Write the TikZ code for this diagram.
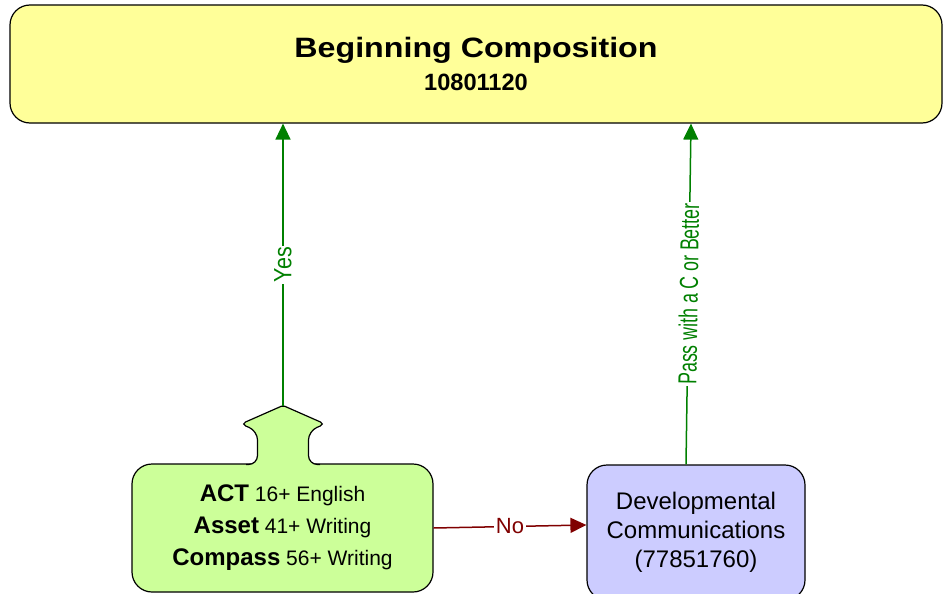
\documentclass[tikz,border=0pt]{standalone}
\usepackage{fontspec}
\setmainfont{Liberation Sans}
\usetikzlibrary{arrows.meta}

\definecolor{coursefill}{RGB}{255,255,153}
\definecolor{testfill}{RGB}{204,255,153}
\definecolor{devfill}{RGB}{204,204,255}
\definecolor{passgreen}{RGB}{0,128,0}
\definecolor{faildark}{RGB}{128,0,0}

\newcommand{\examname}[1]{{\fontsize{24}{32}\selectfont\bfseries #1}}

\begin{document}
\begin{tikzpicture}[x=1pt, y=-1pt, >={Triangle[length=16pt,width=15pt]},
    box/.style={draw, line width=1.2pt, rounded corners=20pt, align=center, inner sep=0pt},
    flow/.style={->, line width=1.5pt},
    tag/.style={fill=white, inner sep=1.5pt}]
    \useasboundingbox (0,0) rectangle (943,594);

    \node [box, fill=coursefill, minimum width=932pt, minimum height=118pt,
        font={\fontsize{23.6}{33}\selectfont\bfseries}] (composition) at (476,64)
        {\fontsize{28}{33}\selectfont\scalebox{1.15}[1]{Beginning Composition}\\10801120};
    \node [box, fill=testfill, minimum width=301pt, minimum height=128pt,
        font={\fontsize{21}{32}\selectfont}] (placement) at (282.5,528)
        {\examname{ACT} 16+ English\\\examname{Asset} 41+ Writing\\\examname{Compass} 56+ Writing};
    \node [box, fill=devfill, minimum width=218pt, minimum height=135pt,
        font={\fontsize{24}{29}\selectfont}] (devcomm) at (696,532.5)
        {Developmental\\Communications\\(77851760)};

    % tab on top of the placement box
    \fill [testfill, rounded corners=9pt] (246,464.5) -- (257.5,464.5) -- (257.5,431)
        [rounded corners=5pt] -- (241,424) [rounded corners=2pt] -- (283,405.5)
        [rounded corners=5pt] -- (325,424) [rounded corners=9pt] -- (308.5,431)
        -- (308.5,464.5) [sharp corners] -- (320,464.5) -- (320,467) -- (246,467) -- cycle;
    \draw [line width=1.2pt, rounded corners=9pt] (246,464.5) -- (257.5,464.5) -- (257.5,431)
        [rounded corners=5pt] -- (241,424) [rounded corners=2pt] -- (283,405.5)
        [rounded corners=5pt] -- (325,424) [rounded corners=9pt] -- (308.5,431)
        -- (308.5,464.5) -- (320,464.5);
    \coordinate (tab) at (283,405.5);

    \draw [flow, passgreen] (tab) -- node [tag, sloped, font={\fontsize{25}{25}\selectfont}]
        {\scalebox{.86}[1]{Yes}} ([xshift=-193pt]composition.south);
    \draw [flow, passgreen] ([xshift=-10pt]devcomm.north) -- node [tag, sloped, font={\fontsize{26}{26}\selectfont}]
        {\scalebox{.68}[1]{Pass with a C or Better}} ([xshift=215pt]composition.south);
    \draw [flow, faildark] (placement.east) -- node [tag, font={\fontsize{22}{22}\selectfont}]
        {No} ([yshift=7.5pt]devcomm.west);
\end{tikzpicture}
\end{document}
